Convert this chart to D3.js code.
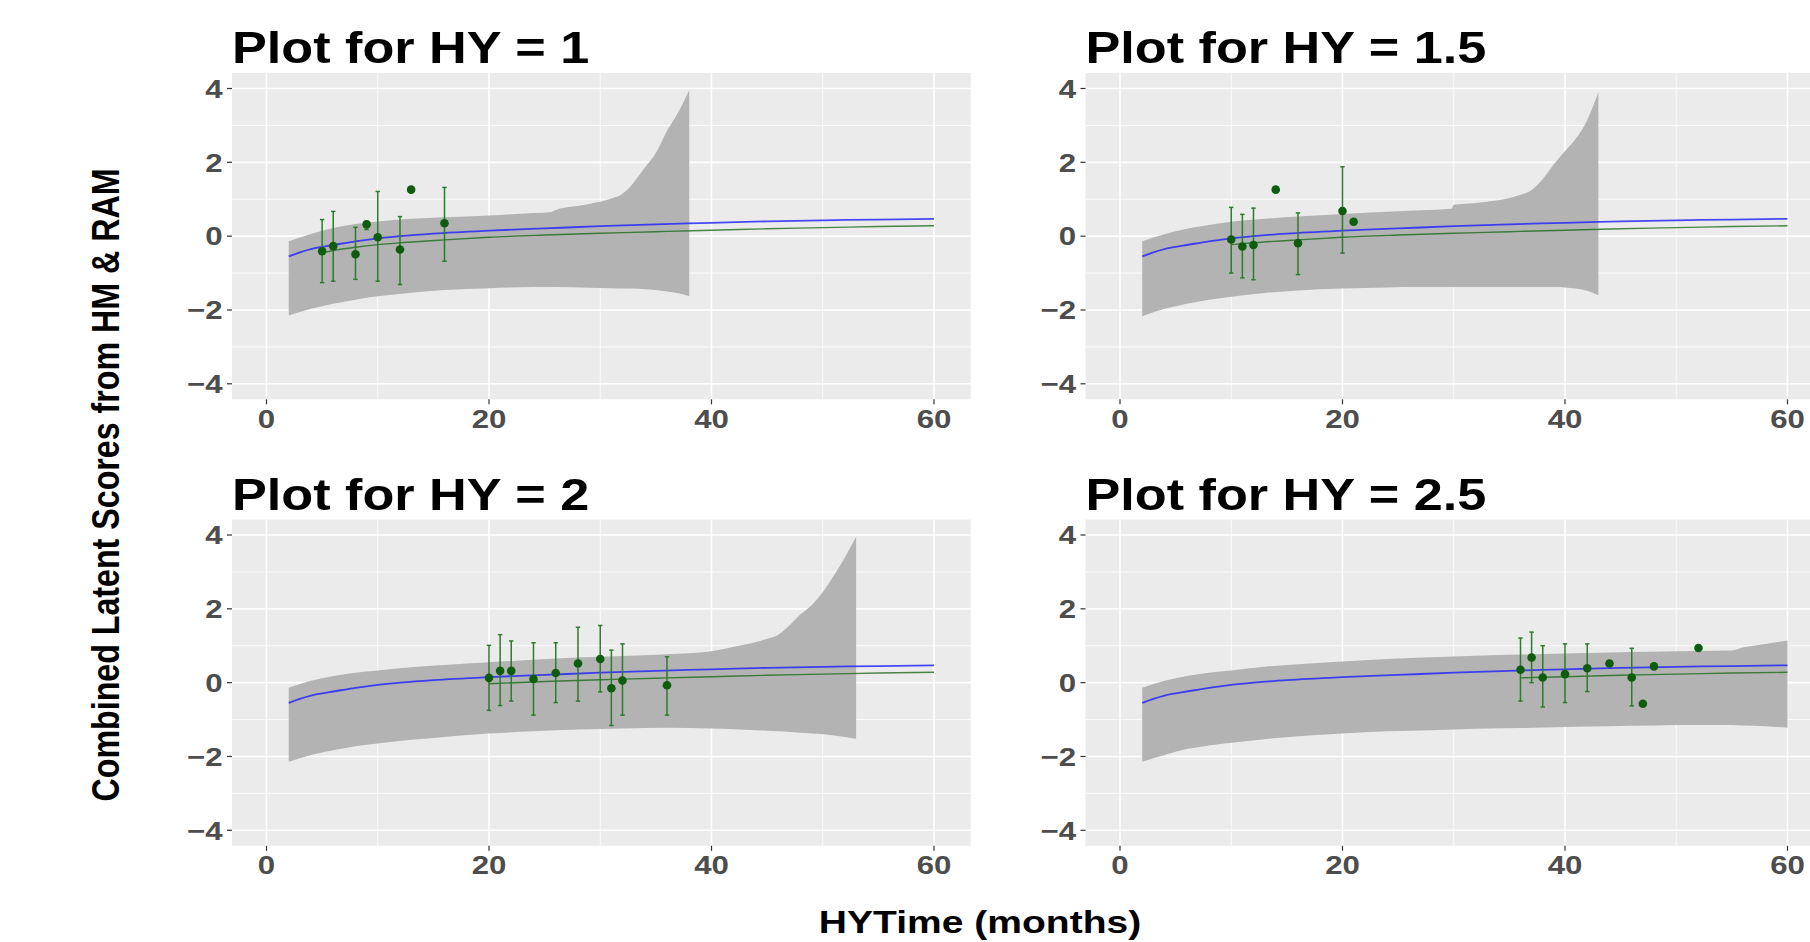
<!DOCTYPE html>
<html>
<head>
<meta charset="utf-8">
<script src="https://cdn.jsdelivr.net/npm/d3@7"></script>
<style>
html,body{margin:0;padding:0;background:#fff;}
svg{display:block;}
text{font-family:"Liberation Sans",Arial,Helvetica,sans-serif;font-weight:bold;}
</style>
</head>
<body>
<svg id="chart" width="1810" height="942"></svg>
<script>
// ---------- data ----------
const panelTitles = ["Plot for HY = 1", "Plot for HY = 1.5", "Plot for HY = 2", "Plot for HY = 2.5"];
const xTicks = [0, 20, 40, 60];
const yTicks = [-4, -2, 0, 2, 4];
const xMinor = [10, 30, 50];
const yMinor = [-3, -1, 1, 3];
const xLabel = "HYTime (months)";
const yLabel = "Combined Latent Scores from HM & RAM";

// blue fitted curve (same in every panel)
const blueX = [2, 3, 4, 5, 6, 8, 10, 12, 15, 20, 25, 30, 35, 40, 45, 50, 55, 60];
const blueY = [-0.55, -0.44, -0.35, -0.29, -0.24, -0.14, -0.06, 0.0, 0.07, 0.15, 0.21, 0.27, 0.32, 0.36, 0.40, 0.43, 0.45, 0.47];

// green curve, drawn from the first observed time of each panel
const greenX = [5, 6, 8, 10, 12, 16, 20, 25, 30, 35, 36, 40, 45, 50, 55, 60];
const greenY = [-0.45, -0.39, -0.30, -0.23, -0.18, -0.10, -0.03, 0.03, 0.08, 0.12, 0.13, 0.16, 0.20, 0.23, 0.26, 0.28];
const greenStart = [5, 10, 20, 36];

// grey ribbons
const ribX1 = [2, 4, 6, 8, 10, 13, 16, 20, 24, 25.5, 26, 29, 31, 32, 33, 34, 35, 36, 37, 38];
const ribLo1 = [-2.15, -1.97, -1.83, -1.72, -1.63, -1.53, -1.46, -1.41, -1.38, -1.38, -1.38, -1.40, -1.41, -1.42, -1.42, -1.44, -1.46, -1.50, -1.55, -1.63];
const ribHi1 = [-0.14, 0.06, 0.22, 0.33, 0.40, 0.47, 0.51, 0.56, 0.63, 0.65, 0.71, 0.87, 1.02, 1.15, 1.45, 1.85, 2.25, 2.85, 3.35, 3.95];

const ribX2 = [2, 4, 6, 8, 10, 13, 16, 20, 24, 27, 29.8, 30, 32, 34, 36, 37, 38, 39, 40, 41, 42, 43];
const ribLo2 = [-2.17, -1.97, -1.83, -1.72, -1.64, -1.54, -1.47, -1.42, -1.39, -1.38, -1.38, -1.38, -1.38, -1.38, -1.38, -1.38, -1.38, -1.38, -1.39, -1.42, -1.48, -1.60];
const ribHi2 = [-0.14, 0.05, 0.20, 0.30, 0.39, 0.47, 0.53, 0.60, 0.66, 0.70, 0.74, 0.85, 0.90, 0.97, 1.12, 1.25, 1.55, 1.95, 2.30, 2.65, 3.15, 3.90];

const ribX3 = [2, 4, 6, 8, 10, 13, 16, 20, 24, 28, 32, 36, 40, 42, 44, 45, 46, 47, 48, 49, 50, 51, 52, 53];
const ribLo3 = [-2.14, -1.96, -1.83, -1.72, -1.65, -1.55, -1.47, -1.38, -1.32, -1.27, -1.24, -1.22, -1.24, -1.26, -1.29, -1.30, -1.32, -1.34, -1.36, -1.38, -1.40, -1.43, -1.47, -1.52];
const ribHi3 = [-0.14, 0.05, 0.18, 0.27, 0.33, 0.42, 0.48, 0.55, 0.62, 0.68, 0.72, 0.77, 0.85, 0.97, 1.10, 1.19, 1.30, 1.55, 1.85, 2.10, 2.45, 2.90, 3.40, 3.95];

const ribX4 = [2, 4, 6, 8, 10, 13, 16, 20, 24, 28, 32, 36, 40, 44, 48, 52, 55, 56, 58, 60];
const ribLo4 = [-2.14, -1.96, -1.80, -1.70, -1.63, -1.53, -1.45, -1.38, -1.32, -1.29, -1.25, -1.23, -1.20, -1.18, -1.16, -1.15, -1.15, -1.16, -1.18, -1.22];
const ribHi4 = [-0.14, 0.05, 0.18, 0.27, 0.33, 0.43, 0.50, 0.57, 0.64, 0.69, 0.73, 0.76, 0.79, 0.82, 0.84, 0.86, 0.87, 0.95, 1.05, 1.14];

// observed means with error bars (null = no bar)
const ptX1 = [5, 6, 8, 9, 10, 12, 13, 16];
const ptY1 = [-0.41, -0.27, -0.49, 0.32, -0.03, -0.36, 1.26, 0.35];
const barLo1 = [-1.26, -1.22, -1.17, 0.18, -1.22, -1.31, null, -0.68];
const barHi1 = [0.45, 0.67, 0.24, 0.40, 1.21, 0.53, null, 1.32];

const ptX2 = [10, 11, 12, 14, 16, 20, 21];
const ptY2 = [-0.09, -0.28, -0.24, 1.26, -0.19, 0.68, 0.39];
const barLo2 = [-1.00, -1.13, -1.18, null, -1.04, -0.46, null];
const barHi2 = [0.78, 0.59, 0.76, null, 0.63, 1.88, null];

const ptX3 = [20, 21, 22, 24, 26, 28, 30, 31, 32, 36];
const ptY3 = [0.13, 0.32, 0.32, 0.10, 0.26, 0.52, 0.64, -0.15, 0.06, -0.07];
const barLo3 = [-0.75, -0.62, -0.50, -0.88, -0.54, -0.50, -0.25, -1.16, -0.88, -0.88];
const barHi3 = [1.01, 1.30, 1.13, 1.08, 1.08, 1.50, 1.55, 0.88, 1.05, 0.70];

const ptX4 = [36, 37, 38, 40, 42, 44, 46, 47, 48, 52];
const ptY4 = [0.35, 0.68, 0.14, 0.23, 0.39, 0.52, 0.14, -0.57, 0.44, 0.94];
const barLo4 = [-0.50, 0.00, -0.66, -0.54, -0.24, null, -0.63, null, null, null];
const barHi4 = [1.21, 1.37, 1.00, 1.05, 1.05, null, 0.93, null, null, null];

// ---------- assemble ----------
const ribbons = [[ribX1, ribLo1, ribHi1], [ribX2, ribLo2, ribHi2], [ribX3, ribLo3, ribHi3], [ribX4, ribLo4, ribHi4]];
const points = [[ptX1, ptY1, barLo1, barHi1], [ptX2, ptY2, barLo2, barHi2], [ptX3, ptY3, barLo3, barHi3], [ptX4, ptY4, barLo4, barHi4]];

const svg = d3.select("#chart");
svg.append("rect").attr("width", 1810).attr("height", 942).attr("fill", "#fff");

const SX = 1.2; // horizontal stretch of glyphs
const panelW = 738.7, panelH = 326.3;
const lefts = [232, 1085.5], tops = [73, 519.5];
const xDom = [-3.1, 63.3], yDom = [-4.42, 4.42];

const blue = blueX.map((x, i) => ({x, y: blueY[i]}));

panelTitles.forEach((title, p) => {
  const L = lefts[p % 2], T = tops[Math.floor(p / 2)];
  const x = d3.scaleLinear().domain(xDom).range([L, L + panelW]);
  const y = d3.scaleLinear().domain(yDom).range([T + panelH, T]);
  const g = svg.append("g");

  g.append("rect").attr("x", L).attr("y", T).attr("width", panelW).attr("height", panelH).attr("fill", "#ebebeb");

  // grid
  g.selectAll(".vminor").data(xMinor).join("line")
    .attr("x1", d => x(d)).attr("x2", d => x(d)).attr("y1", T).attr("y2", T + panelH)
    .attr("stroke", "#fff").attr("stroke-width", 0.8);
  g.selectAll(".hminor").data(yMinor).join("line").attr("class", "hm")
    .attr("y1", d => y(d)).attr("y2", d => y(d)).attr("x1", L).attr("x2", L + panelW)
    .attr("stroke", "#fff").attr("stroke-width", 0.8);
  g.selectAll(".vmajor").data(xTicks).join("line").attr("class", "vM")
    .attr("x1", d => x(d)).attr("x2", d => x(d)).attr("y1", T).attr("y2", T + panelH)
    .attr("stroke", "#fff").attr("stroke-width", 1.6);
  g.selectAll(".hmajor").data(yTicks).join("line").attr("class", "hM")
    .attr("y1", d => y(d)).attr("y2", d => y(d)).attr("x1", L).attr("x2", L + panelW)
    .attr("stroke", "#fff").attr("stroke-width", 1.6);

  // ribbon
  const [rx, rlo, rhi] = ribbons[p];
  const rib = rx.map((v, i) => ({x: v, lo: rlo[i], hi: rhi[i]}));
  g.append("path").datum(rib)
    .attr("d", d3.area().x(d => x(d.x)).y0(d => y(d.lo)).y1(d => y(d.hi)).curve(d3.curveMonotoneX))
    .attr("fill", "#b3b3b3");

  // blue line
  g.append("path").datum(blue)
    .attr("d", d3.line().x(d => x(d.x)).y(d => y(d.y)).curve(d3.curveMonotoneX))
    .attr("fill", "none").attr("stroke", "#1f1fff").attr("stroke-opacity", 0.8).attr("stroke-width", 1.8);

  // green line
  const green = greenX.map((v, i) => ({x: v, y: greenY[i]})).filter(d => d.x >= greenStart[p]);
  g.append("path").datum(green)
    .attr("d", d3.line().x(d => x(d.x)).y(d => y(d.y)).curve(d3.curveMonotoneX))
    .attr("fill", "none").attr("stroke", "#1e6b1e").attr("stroke-opacity", 0.8).attr("stroke-width", 1.4);

  // error bars + points
  const [px, py, blo, bhi] = points[p];
  const pts = px.map((v, i) => ({x: v, y: py[i], lo: blo[i], hi: bhi[i]}));
  const bars = pts.filter(d => d.lo !== null);
  const eg = g.append("g").attr("stroke", "#2a7d2a").attr("stroke-width", 1.5);
  eg.selectAll(".v").data(bars).join("line").attr("class", "v")
    .attr("x1", d => x(d.x)).attr("x2", d => x(d.x)).attr("y1", d => y(d.lo)).attr("y2", d => y(d.hi));
  eg.selectAll(".c1").data(bars).join("line").attr("class", "c1")
    .attr("x1", d => x(d.x) - 2.2).attr("x2", d => x(d.x) + 2.2).attr("y1", d => y(d.lo)).attr("y2", d => y(d.lo));
  eg.selectAll(".c2").data(bars).join("line").attr("class", "c2")
    .attr("x1", d => x(d.x) - 2.2).attr("x2", d => x(d.x) + 2.2).attr("y1", d => y(d.hi)).attr("y2", d => y(d.hi));
  g.selectAll(".pt").data(pts).join("circle").attr("class", "pt")
    .attr("cx", d => x(d.x)).attr("cy", d => y(d.y)).attr("r", 4.3).attr("fill", "#0e5c0e");

  // axes ticks
  g.selectAll(".xt").data(xTicks).join("line").attr("class", "xt")
    .attr("x1", d => x(d)).attr("x2", d => x(d)).attr("y1", T + panelH).attr("y2", T + panelH + 5)
    .attr("stroke", "#333").attr("stroke-width", 1.2);
  g.selectAll(".yt").data(yTicks).join("line").attr("class", "yt")
    .attr("x1", L - 5).attr("x2", L).attr("y1", d => y(d)).attr("y2", d => y(d))
    .attr("stroke", "#333").attr("stroke-width", 1.2);

  g.selectAll(".xl").data(xTicks).join("text").attr("class", "xl")
    .attr("transform", d => `translate(${x(d)},${T + panelH + 28.5}) scale(${SX},1)`)
    .attr("text-anchor", "middle").attr("font-size", 26).attr("fill", "#4d4d4d")
    .text(d => d3.format("d")(d));
  g.selectAll(".yl").data(yTicks).join("text").attr("class", "yl")
    .attr("transform", d => `translate(${L - 9.5},${y(d) + 9.3}) scale(${SX},1)`)
    .attr("text-anchor", "end").attr("font-size", 26).attr("fill", "#4d4d4d")
    .text(d => d < 0 ? "\u2212" + Math.abs(d) : String(d));

  // title
  g.append("text").attr("transform", `translate(${L},${T - 9.7}) scale(1.16,1)`)
    .attr("font-size", 45).attr("fill", "#000").text(title);
});

// axis titles
svg.append("text").attr("transform", `translate(980,933) scale(1.22,1)`)
  .attr("text-anchor", "middle").attr("font-size", 32).attr("fill", "#000").text(xLabel);
svg.append("text").attr("transform", `translate(119,485) scale(1.2,1) rotate(-90)`)
  .attr("text-anchor", "middle").attr("font-size", 32.2).attr("fill", "#000").text(yLabel);
</script>
</body>
</html>
